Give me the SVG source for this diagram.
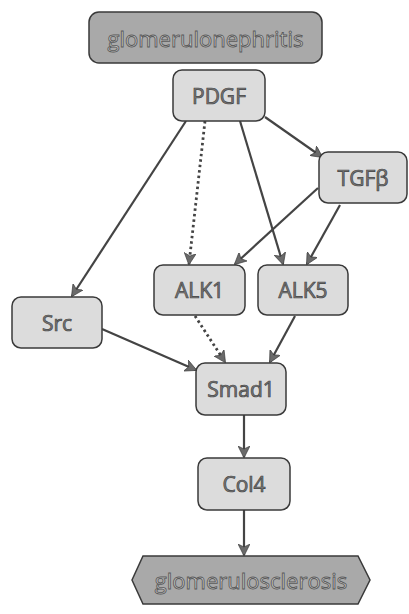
<svg xmlns="http://www.w3.org/2000/svg" width="409" height="614" viewBox="0 0 409 614">
<style>
.n{fill:#dcdcdc;stroke:#3a3a3a;stroke-width:1.5}
.d{fill:#a9a9a9;stroke:#3a3a3a;stroke-width:1.5}
.t{font-family:"Open Sans","DejaVu Sans",sans-serif;font-size:21px;fill:#7a7a7a;stroke:#444;stroke-width:0.7;text-anchor:middle;dominant-baseline:central}
.td{font-family:"Open Sans","DejaVu Sans",sans-serif;font-size:22px;fill:#cfcfcf;stroke:#5a5a5a;stroke-width:0.9;text-anchor:middle;dominant-baseline:central}
.e{stroke:#444;stroke-width:2.2;fill:none;marker-end:url(#a)}
.dot{stroke-dasharray:2.5 3;stroke-width:2.8}
</style>
<defs>
<marker id="a" viewBox="0 0 12 12" refX="11" refY="6" markerWidth="12" markerHeight="12" orient="auto" markerUnits="userSpaceOnUse">
<path d="M0,0 L12,6 L0,12 L3,6 Z" fill="#6a6a6a" stroke="#333" stroke-width="0.6"/>
</marker>
</defs>
<g id="connectors">
<line class="e" x1="186" y1="121" x2="72" y2="296"/>
<line class="e dot" x1="205" y1="121" x2="189" y2="264"/>
<line class="e" x1="240" y1="121" x2="283" y2="264"/>
<line class="e" x1="265" y1="117" x2="322" y2="157"/>
<line class="e" x1="318" y1="188" x2="235" y2="264"/>
<line class="e" x1="340" y1="205" x2="307" y2="264"/>
<line class="e" x1="102" y1="329" x2="196" y2="370"/>
<line class="e dot" x1="195" y1="316" x2="225" y2="362"/>
<line class="e" x1="295" y1="316" x2="270" y2="362"/>
<line class="e" x1="244" y1="415" x2="244" y2="457"/>
<line class="e" x1="244" y1="510" x2="244" y2="555"/>
</g>
<g id="glomerulonephritis">
<rect class="d" x="89" y="12" width="233" height="51" rx="10"/>
<text class="td" x="205.5" y="38">glomerulonephritis</text>
</g>
<g id="PDGF">
<rect class="n" x="173" y="70" width="92" height="51" rx="9"/>
<text class="t" x="219" y="96">PDGF</text>
</g>
<g id="TGFb">
<rect class="n" x="319" y="152" width="88" height="51" rx="9"/>
<text class="t" x="363" y="178">TGFβ</text>
</g>
<g id="ALK1">
<rect class="n" x="154" y="265" width="91" height="50" rx="9"/>
<text class="t" x="199.5" y="290">ALK1</text>
</g>
<g id="ALK5">
<rect class="n" x="258" y="265" width="90" height="50" rx="9"/>
<text class="t" x="303" y="290">ALK5</text>
</g>
<g id="Src">
<rect class="n" x="12" y="297" width="90" height="51" rx="9"/>
<text class="t" x="57" y="323">Src</text>
</g>
<g id="Smad1">
<rect class="n" x="196" y="363" width="90" height="52" rx="9"/>
<text class="t" x="241" y="389">Smad1</text>
</g>
<g id="Col4">
<rect class="n" x="198" y="458" width="92" height="52" rx="9"/>
<text class="t" x="244" y="484">Col4</text>
</g>
<g id="glomerulosclerosis">
<polygon class="d" points="143,556 358,556 370,580 358,604 143,604 132,580"/>
<text class="td" x="251" y="580">glomerulosclerosis</text>
</g>
</svg>
